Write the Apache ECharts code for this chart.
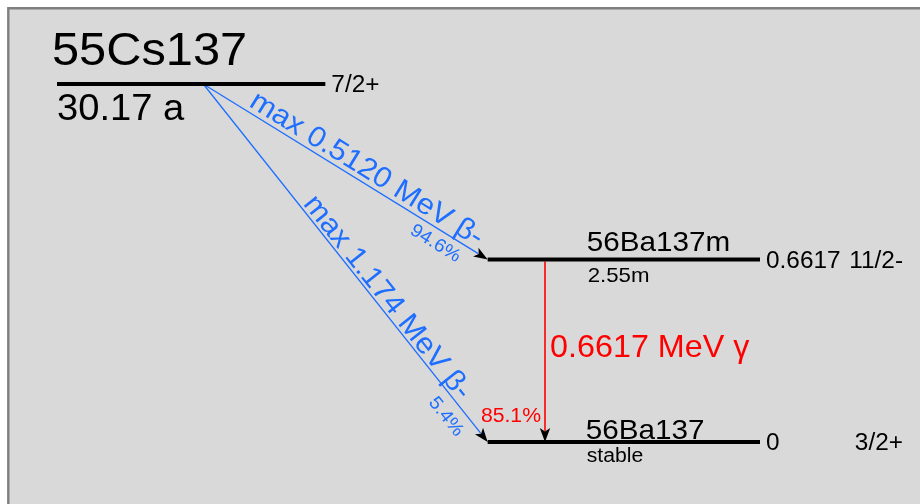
<!DOCTYPE html>
<html><head><meta charset="utf-8">
<script src="https://cdn.jsdelivr.net/npm/echarts@6/dist/echarts.min.js"></script>
<style>html,body{margin:0;padding:0;background:#fff}#c{width:920px;height:504px}</style>
</head><body><div id="c"></div>
<script>
// ---- Nuclear levels ----
const levelNames = ['55Cs137', '56Ba137m', '56Ba137'];
const levelHalfLives = ['30.17 a', '2.55m', 'stable'];
const levelEnergies = ['', '0.6617', '0'];
const levelSpins = ['7/2+', '11/2-', '3/2+'];
const levelTier = [2, 1.02, 0];
const levelXStart = [0, 16.05, 16.05];
const levelXEnd = [10, 26.2, 26.2];

// ---- Transitions ----
const transFrom = [0, 0, 1];
const transTo = [1, 2, 2];
const transKind = ['beta', 'beta', 'gamma'];
const transLabels = ['max 0.5120 MeV \u03b2-', 'max 1.174 MeV \u03b2-', '0.6617 MeV \u03b3'];
const transIntensity = ['94.6%', '5.4%', '85.1%'];
const transXFrom = [5.45, 5.45, 18.2];
const transXTo = [16.05, 16.05, 18.2];

// ---- Styles (not data) ----
const FONT = '"Liberation Sans", Arial, sans-serif';
const BLUE = '#1e6eff', RED = '#ff0000';
const SX = 1.06;
const nameStyle = [[-5, -33.5, 46], [99, -18, 28], [98, -12, 28]];
const halfStyle = [[0, 24, 36], [100, 15.5, 21], [99, 13.5, 20]];
const energyStyle = [[6, 1, 23], [6, 1, 23], [6, 0.5, 23]];
const spinStyle = [[6, 1, 23, 'left'], [143, 1, 23, 'right'], [143, 0.5, 23, 'right']];
const labelFrac = [0.55, 0.616, 0.475];
const labelPerp = [13, 11, 5];
const pctFrac = [0.842, 0.90, 1];
const pctPerp = [-14, -17, 0];

function txt(text, x, y, size, align, color) {
  return {type: 'text', x: x, y: y + size * 0.05, scaleX: SX, style: {text: text, fill: color || '#000',
    font: size + 'px ' + FONT, align: align || 'left', verticalAlign: 'middle'}};
}

function renderLevel(params, api) {
  const i = params.dataIndex;
  const a = api.coord([api.value(0), api.value(2)]);
  const b = api.coord([api.value(1), api.value(2)]);
  const ch = [{type: 'line', shape: {x1: a[0], y1: a[1], x2: b[0], y2: b[1]},
    style: {stroke: '#000', lineWidth: 4}}];
  const n = nameStyle[i], h = halfStyle[i], e = energyStyle[i], s = spinStyle[i];
  ch.push(txt(levelNames[i], a[0] + n[0], a[1] + n[1], n[2]));
  ch.push(txt(levelHalfLives[i], a[0] + h[0], a[1] + h[1], h[2]));
  if (levelEnergies[i]) ch.push(txt(levelEnergies[i], b[0] + e[0], b[1] + e[1], e[2]));
  ch.push(txt(levelSpins[i], b[0] + s[0], b[1] + s[1], s[2], s[3]));
  return {type: 'group', children: ch};
}

function renderTrans(params, api) {
  const i = params.dataIndex;
  const p1 = api.coord([api.value(0), api.value(1)]);
  const p2 = api.coord([api.value(2), api.value(3)]);
  const kind = transKind[i];
  const color = kind === 'beta' ? BLUE : RED;
  if (kind === 'gamma') { p1[1] += 2; p1[0] = p2[0] = Math.round(p1[0]); }
  const dx = p2[0] - p1[0], dy = p2[1] - p1[1], L = Math.hypot(dx, dy);
  const ux = dx / L, uy = dy / L, nx = uy, ny = -ux;
  const AL = 14, AW = 5.2;
  const bx = p2[0] - ux * AL, by = p2[1] - uy * AL;
  const ch = [];
  ch.push({type: 'line', shape: {x1: p1[0], y1: p1[1], x2: bx + ux * 3, y2: by + uy * 3},
    style: {stroke: color, lineWidth: kind === 'beta' ? 1.3 : 1.6}});
  ch.push({type: 'polygon', shape: {points: [[p2[0], p2[1]],
      [bx + nx * AW, by + ny * AW], [bx + ux * 3.5, by + uy * 3.5], [bx - nx * AW, by - ny * AW]]},
    style: {fill: '#000'}});
  if (kind === 'beta') {
    const ang = -Math.atan2(dy, dx);
    const cx = p1[0] + ux * L * labelFrac[i] + nx * labelPerp[i];
    const cy = p1[1] + uy * L * labelFrac[i] + ny * labelPerp[i];
    const t1 = txt(transLabels[i], cx, cy, 29, 'center', BLUE); t1.y = cy; t1.rotation = ang; ch.push(t1);
    const qx = p1[0] + ux * L * pctFrac[i] + nx * pctPerp[i];
    const qy = p1[1] + uy * L * pctFrac[i] + ny * pctPerp[i];
    const t2 = txt(transIntensity[i], qx, qy, 18.5, 'center', BLUE); t2.y = qy; t2.rotation = ang; ch.push(t2);
  } else {
    ch.push(txt(transLabels[i], p1[0] + labelPerp[i], p1[1] + dy * labelFrac[i], 30.5, 'left', RED));
    ch.push(txt(transIntensity[i], p2[0] - 4, p2[1] - 26.5, 20, 'right', RED));
  }
  return {type: 'group', children: ch};
}

const levelData = levelNames.map((_, i) => [levelXStart[i], levelXEnd[i], levelTier[i]]);
const transData = transFrom.map((f, i) => [transXFrom[i], levelTier[f], transXTo[i], levelTier[transTo[i]]]);

const chart = echarts.init(document.getElementById('c'), null, {renderer: 'canvas'});
chart.setOption({
  animation: false,
  backgroundColor: '#fff',
  graphic: [{type: 'rect', z: -10, silent: true, shape: {x: 8.3, y: 8.3, width: 1000, height: 1000},
    style: {fill: '#d9d9d9', stroke: '#7f7f7f', lineWidth: 2.4}}],
  grid: {left: 57, right: 160, top: 84, bottom: 62},
  xAxis: {type: 'value', min: 0, max: 26.2, show: false},
  yAxis: {type: 'value', min: 0, max: 2, show: false},
  series: [
    {type: 'custom', name: 'levels', clip: false, renderItem: renderLevel, data: levelData, z: 3},
    {type: 'custom', name: 'transitions', clip: false, renderItem: renderTrans, data: transData, z: 2}
  ]
});
</script></body></html>
